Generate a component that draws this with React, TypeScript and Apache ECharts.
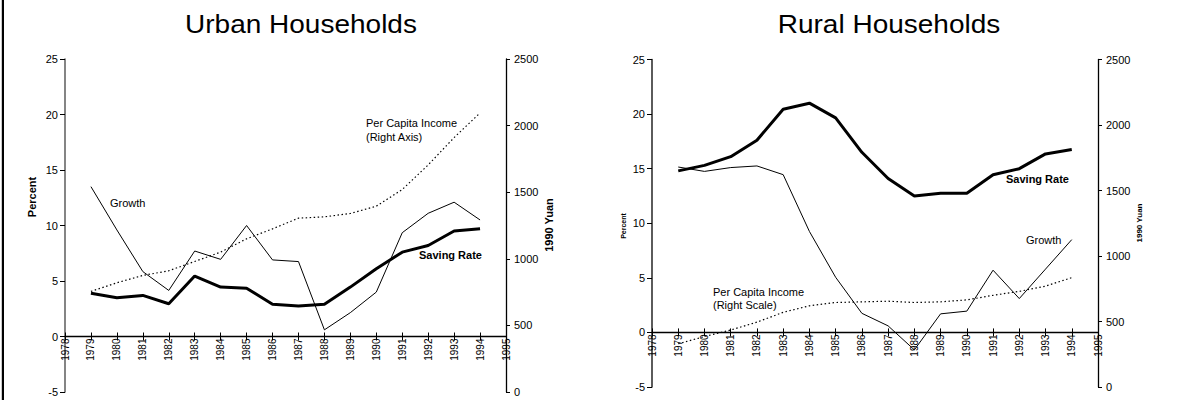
import React, { useEffect, useRef } from "react";
import * as echarts from "echarts";

const years = [1979, 1980, 1981, 1982, 1983, 1984, 1985, 1986, 1987, 1988, 1989, 1990, 1991, 1992, 1993, 1994];
const urbanSaving = [3.9, 3.5, 3.7, 2.95, 5.45, 4.45, 4.35, 2.9, 2.75, 2.9, 4.45, 6.1, 7.6, 8.2, 9.5, 9.7];
const urbanGrowth = [13.5, 9.6, 5.85, 4.15, 7.7, 6.95, 10.0, 6.9, 6.75, 0.6, 2.15, 4.0, 9.35, 11.1, 12.1, 10.5];
const urbanIncome = [755, 820, 875, 910, 980, 1050, 1150, 1225, 1305, 1315, 1340, 1395, 1520, 1705, 1910, 2095];
const ruralSaving = [14.8, 15.3, 16.1, 17.6, 20.45, 21.0, 19.65, 16.5, 14.1, 12.5, 12.75, 12.75, 14.45, 15.0, 16.35, 16.75];
const ruralGrowth = [15.15, 14.75, 15.1, 15.25, 14.45, 9.25, 5.05, 1.75, 0.6, -1.6, 1.7, 1.95, 5.7, 3.1, 5.8, 8.5];
const ruralIncome = [330, 385, 435, 495, 570, 620, 645, 650, 655, 645, 650, 665, 700, 730, 770, 835];

const FONT = "Arial, 'Liberation Sans', Helvetica, sans-serif";
const Y_MIN = -5;
const Y_MAX = 25;

const pairs = (vals: number[]) => years.map((y, i) => [y, vals[i]]);

function xAxes(gridIndex: number, gridHeight: number) {
  // place the category line at the zero of the left axis
  const offset = -(gridHeight * (0 - Y_MIN)) / (Y_MAX - Y_MIN);
  const common = {
    type: "value",
    gridIndex,
    position: "bottom",
    offset,
    min: 1978,
    max: 1995,
    interval: 1,
    splitLine: { show: false },
  };
  return [
    {
      ...common,
      axisLine: { show: true, onZero: false, lineStyle: { color: "#000", width: 1.3 } },
      axisTick: { show: true, inside: false, length: 4, lineStyle: { color: "#000", width: 1 } },
      axisLabel: {
        show: true,
        rotate: 90,
        margin: 2,
        fontSize: 10,
        fontFamily: FONT,
        color: "#000",
        formatter: (v: number) => String(v),
      },
    },
    {
      ...common,
      axisLine: { show: false, onZero: false },
      axisTick: { show: true, inside: true, length: 4, lineStyle: { color: "#000", width: 1 } },
      axisLabel: { show: false },
    },
  ];
}

function yAxes(gridIndex: number, leftColor: string) {
  return [
    {
      type: "value",
      gridIndex,
      position: "left",
      min: Y_MIN,
      max: Y_MAX,
      interval: 5,
      splitLine: { show: false },
      axisLine: { show: true, onZero: false, lineStyle: { color: leftColor, width: 1.6 } },
      axisTick: { show: true, inside: false, length: 5, lineStyle: { color: "#000", width: 1 } },
      axisLabel: { margin: 7, fontSize: 11, fontFamily: FONT, color: "#000" },
    },
    {
      type: "value",
      gridIndex,
      position: "right",
      min: 0,
      max: 2500,
      interval: 500,
      splitLine: { show: false },
      axisLine: { show: true, onZero: false, lineStyle: { color: "#000", width: 1.3 } },
      axisTick: { show: true, inside: false, length: 4, lineStyle: { color: "#000", width: 1 } },
      axisLabel: { margin: 8, fontSize: 11, fontFamily: FONT, color: "#000", formatter: (v: number) => String(v) },
    },
  ];
}

function lineSeries(name: string, vals: number[], xIdx: number, yIdx: number, kind: "thick" | "thin" | "dot") {
  const lineStyle: any = { color: "#000", width: kind === "thick" ? 3 : 1 };
  if (kind === "dot") {
    lineStyle.type = [1.5, 2.5];
    lineStyle.width = 1.2;
  }
  return {
    type: "line",
    name,
    xAxisIndex: xIdx,
    yAxisIndex: yIdx,
    data: pairs(vals),
    symbol: "none",
    smooth: false,
    lineStyle,
    z: kind === "thick" ? 4 : 3,
  };
}

function txt(text: string, x: number, y: number, size: number, opts: any = {}) {
  return {
    type: "text",
    x,
    y,
    rotation: opts.rotation || 0,
    scaleX: opts.scaleX || 1,
    style: {
      text,
      fill: "#000",
      font: `${opts.bold ? "bold " : ""}${size}px ${FONT}`,
      align: opts.align || "left",
      verticalAlign: "middle",
    },
    z: 10,
  };
}

export default function App() {
  const ref = useRef<HTMLDivElement>(null);
  useEffect(() => {
    document.body.style.margin = "0";
    const chart = echarts.init(ref.current!, null, { renderer: "svg" });
    const h0 = 333;
    const h1 = 327.5;
    const option: any = {
      animation: false,
      backgroundColor: "#fff",
      grid: [
        { left: 65, top: 59, width: 441, height: h0, containLabel: false },
        { left: 652, top: 59.5, width: 446, height: h1, containLabel: false },
      ],
      xAxis: [...xAxes(0, h0), ...xAxes(1, h1)],
      yAxis: [...yAxes(0, "#666"), ...yAxes(1, "#333")],
      series: [
        lineSeries("Urban Per Capita Income", urbanIncome, 0, 1, "dot"),
        lineSeries("Urban Growth", urbanGrowth, 0, 0, "thin"),
        lineSeries("Urban Saving Rate", urbanSaving, 0, 0, "thick"),
        lineSeries("Rural Per Capita Income", ruralIncome, 2, 3, "dot"),
        lineSeries("Rural Growth", ruralGrowth, 2, 2, "thin"),
        lineSeries("Rural Saving Rate", ruralSaving, 2, 2, "thick"),
      ],
      graphic: [
        { type: "rect", shape: { x: 1.8, y: 0, width: 2.2, height: 400 }, style: { fill: "#000" } },
        txt("Urban Households", 301, 25, 25, { align: "center", scaleX: 1.12 }),
        txt("Rural Households", 889, 25, 25, { align: "center", scaleX: 1.12 }),
        txt("Percent", 32, 197, 11, { bold: true, align: "center", rotation: Math.PI / 2 }),
        txt("1990 Yuan", 549, 225, 11, { bold: true, align: "center", rotation: Math.PI / 2 }),
        txt("Percent", 623, 226, 7, { bold: true, align: "center", rotation: Math.PI / 2 }),
        txt("1990 Yuan", 1139, 223, 8, { bold: true, align: "center", rotation: Math.PI / 2 }),
        txt("Growth", 110, 203, 11),
        txt("Per Capita Income", 366, 123, 11),
        txt("(Right Axis)", 366, 137, 11),
        txt("Saving Rate", 419, 255, 11, { bold: true }),
        txt("Saving Rate", 1006, 179, 11, { bold: true }),
        txt("Growth", 1026, 240, 11),
        txt("Per Capita Income", 713, 292, 11),
        txt("(Right Scale)", 713, 305, 11),
      ],
    };
    chart.setOption(option);
    return () => chart.dispose();
  }, []);
  return <div ref={ref} style={{ width: 1180, height: 400 }} />;
}
